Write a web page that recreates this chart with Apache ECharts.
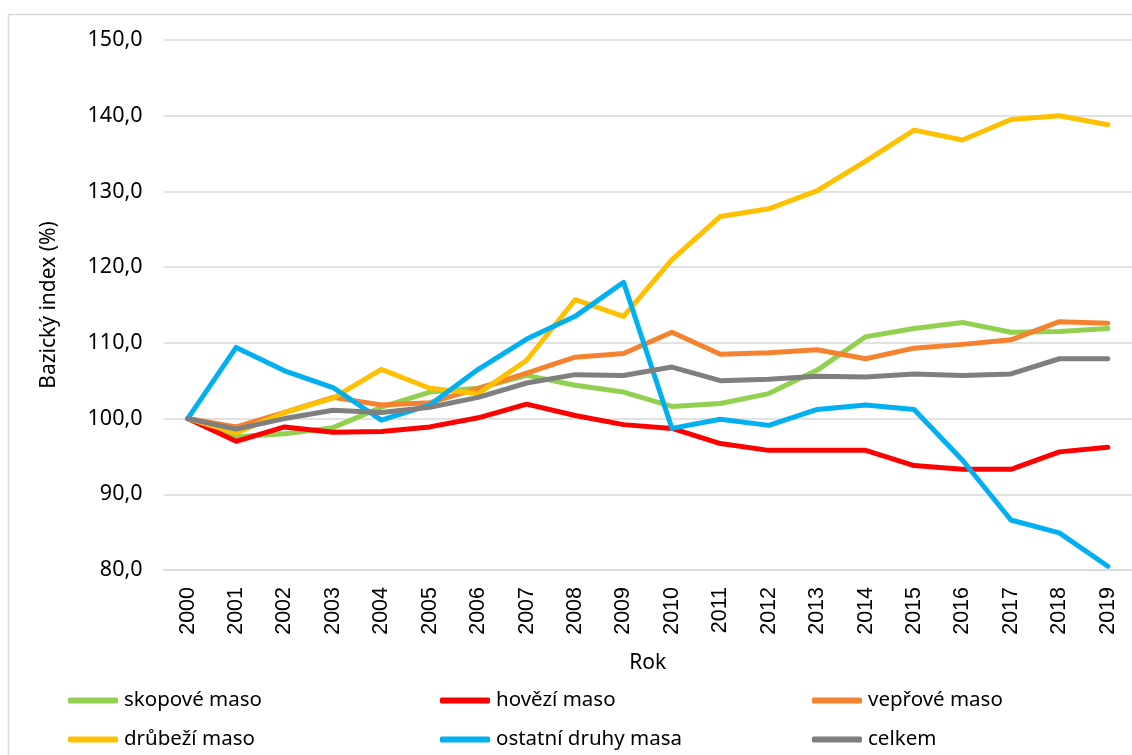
<!DOCTYPE html>
<html><head><meta charset="utf-8">
<script src="https://cdn.jsdelivr.net/npm/echarts@6/dist/echarts.min.js"></script>
<style>html,body{margin:0;padding:0;background:#fff}#c{width:1132px;height:755px}</style>
</head><body><div id="c"></div>
<script>
const years = ['2000','2001','2002','2003','2004','2005','2006','2007','2008','2009','2010','2011','2012','2013','2014','2015','2016','2017','2018','2019'];
const skopove = [100.0,97.6,98.0,98.8,101.5,103.5,104.0,105.7,104.4,103.5,101.6,102.0,103.3,106.4,110.8,111.9,112.7,111.4,111.5,111.9];
const hovezi  = [100.0,97.0,98.9,98.2,98.3,98.9,100.1,101.9,100.4,99.2,98.7,96.7,95.8,95.8,95.8,93.8,93.3,93.3,95.6,96.2];
const veprove = [100.0,98.9,100.8,102.8,101.8,102.1,104.0,106.0,108.1,108.6,111.4,108.5,108.7,109.1,107.9,109.3,109.8,110.4,112.8,112.6];
const drubezi = [100.0,98.1,100.8,102.7,106.5,104.0,103.3,107.7,115.7,113.5,121.0,126.7,127.7,130.1,134.0,138.1,136.8,139.5,140.0,138.8];
const ostatni = [100.0,109.4,106.3,104.1,99.8,101.8,106.5,110.5,113.5,118.0,98.7,99.9,99.1,101.2,101.8,101.2,94.5,86.6,84.9,80.5];
const celkem  = [100.0,98.6,100.0,101.1,100.8,101.5,102.8,104.7,105.8,105.7,106.8,105.0,105.2,105.6,105.5,105.9,105.7,105.9,107.9,107.9];
const yTicks = [80,90,100,110,120,130,140,150];

const names = ['skopové maso','hovězí maso','vepřové maso','drůbeží maso','ostatní druhy masa','celkem'];
const colors = ['#92D050','#FF0000','#F4822F','#FFC000','#00B0F0','#7F7F7F'];
const datas = [skopove,hovezi,veprove,drubezi,ostatni,celkem];

const chart = echarts.init(document.getElementById('c'));
const legends = names.map((n,i)=>({
  orient:'horizontal', left:68 + (i%3)*372, top: i<3 ? 690 : 729, padding:0,
  itemWidth:50, itemHeight:6, itemGap:0, icon:'roundRect',
  textStyle:{fontFamily:'Noto Sans', fontSize:20.5, color:'#000', padding:[0,0,0,1]},
  data:[n]
}));
chart.setOption({
  animation:false,
  color: colors,
  graphic:[{type:'rect', shape:{x:8.5,y:14.5,width:1140,height:760}, style:{fill:'none', stroke:'#d9d9d9', lineWidth:1.5}, silent:true}],
  grid:{left:163.5, right:-9.5, top:40, bottom:185, containLabel:false},
  legend: legends,
  xAxis:{
    type:'category', data:years, boundaryGap:true,
    name:'Rok', nameLocation:'middle', nameGap:83,
    nameTextStyle:{fontFamily:'Noto Sans', fontSize:21, color:'#000'},
    axisLine:{lineStyle:{color:'#d9d9d9', width:1.5}},
    axisTick:{show:false},
    axisLabel:{rotate:90, margin:17, fontFamily:'Liberation Sans', fontSize:21.5, color:'#000'}
  },
  yAxis:{
    type:'value', min:80, max:150, interval:10,
    name:'Bazický index (%)', nameLocation:'middle', nameGap:104,
    nameTextStyle:{fontFamily:'Noto Sans', fontSize:21, color:'#000'},
    axisLine:{show:false}, axisTick:{show:false},
    axisLabel:{margin:21, fontFamily:'Noto Sans', fontSize:21.5, color:'#000',
      formatter:v=>v.toFixed(1).replace('.',',')},
    splitLine:{lineStyle:{color:'#d9d9d9', width:1.5}}
  },
  series: names.map((n,i)=>({
    name:n, type:'line', data:datas[i], symbol:'none', smooth:false,
    legendIndex: i,
    lineStyle:{width:5, color:colors[i], cap:'round', join:'round'},
    itemStyle:{color:colors[i]}
  }))
});
</script></body></html>
